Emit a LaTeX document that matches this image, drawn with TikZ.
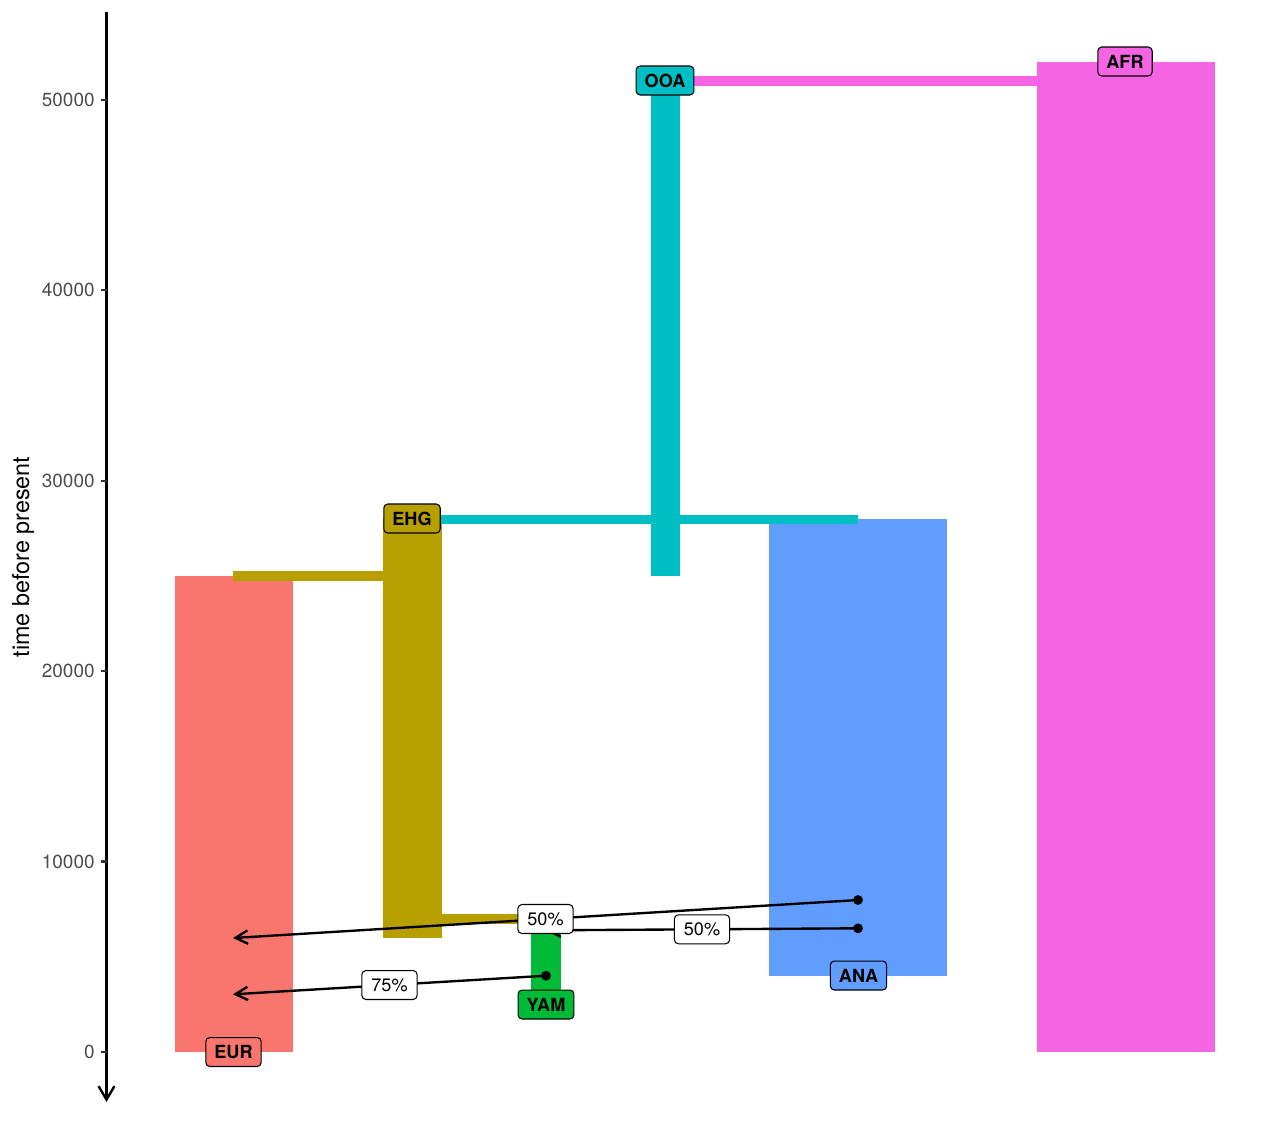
\documentclass[tikz,border=0pt]{standalone}
\usepackage{fontspec}
\setmainfont{TeX Gyre Heros}
\usetikzlibrary{arrows.meta}
\definecolor{cEUR}{HTML}{F8766D}
\definecolor{cEHG}{HTML}{B79F00}
\definecolor{cYAM}{HTML}{00BA38}
\definecolor{cOOA}{HTML}{00BFC4}
\definecolor{cANA}{HTML}{619CFF}
\definecolor{cAFR}{HTML}{F564E3}
\definecolor{ticktext}{HTML}{4D4D4D}
\definecolor{tickline}{HTML}{333333}
\tikzset{
  pop/.style={draw=black, line width=0.6pt, rounded corners=2.3pt, font=\fontsize{10.3}{12}\selectfont\bfseries,
    text height=7.4pt, text depth=0pt, minimum height=16.5pt, inner xsep=4.9pt, inner ysep=0pt},
  pct/.style={draw=black, fill=white, line width=0.6pt, rounded corners=2.3pt, font=\fontsize{10.3}{12}\selectfont,
    text height=7.4pt, text depth=0pt, minimum height=16.5pt, inner xsep=5.4pt, inner ysep=0pt},
  gf/.style={draw=black, line width=1.35pt, -{Straight Barb[length=7pt,width=7.6pt]}},
  gfdot/.style={fill=black},
  axisline/.style={draw=black, line width=1.35pt, -{Straight Barb[length=7.7pt,width=9pt]}},
  tick/.style={draw=tickline, line width=1.35pt},
  ticklab/.style={anchor=east, text=ticktext, font=\fontsize{10.8}{12}\selectfont, inner sep=0pt}
}
\begin{document}
\begin{tikzpicture}[x=0.02cm, y=-0.02cm]
\useasboundingbox (0,0) rectangle (1280,1120);
% population columns
\fill[cEUR] (175,576) rectangle (293,1052);
\fill[cEHG] (383,519) rectangle (441.5,938);
\fill[cYAM] (531,919) rectangle (560.5,1004);
\fill[cOOA] (650.5,81) rectangle (679.5,576);
\fill[cANA] (769,519) rectangle (947,976);
\fill[cAFR] (1037,62) rectangle (1215,1052);
% split bars
\fill[cEHG] (233,571) rectangle (412,580.5);
\fill[cEHG] (412,914) rectangle (545.5,923.5);
\fill[cOOA] (412,514.5) rectangle (858,523.5);
\fill[cAFR] (665,76) rectangle (1126,85.5);
% axis
\draw[axisline] (106.5,12) -- (106.5,1102);
\foreach \yy/\lab in {1052/0,861.6/10000,671.2/20000,480.7/30000,290.3/40000,99.9/50000}{
  \draw[tick] (101,\yy) -- (106.5,\yy);
  \node[ticklab] at (95,\yy) {\lab};
}
\node[rotate=90, font=\fontsize{13.3}{15}\selectfont] (title) at (23,557) {time before present};
% gene flow
\coordinate (f1s) at (858,900);
\coordinate (f1e) at (233,938);
\coordinate (f2s) at (858,928.3);
\coordinate (f2e) at (546,930.3);
\coordinate (f3s) at (546,975.7);
\coordinate (f3e) at (233,994.3);
\draw[gf] (f1s) -- (f1e);
\draw[gf] (f2s) -- (f2e);
\draw[gf] (f3s) -- (f3e);
\fill[gfdot] (f1s) circle[radius=2.8pt];
\fill[gfdot] (f2s) circle[radius=2.8pt];
\fill[gfdot] (f3s) circle[radius=2.8pt];
\path (f1s) -- node[pct] (p1) {50\%} (f1e);
\path (f2s) -- node[pct] (p2) {50\%} (f2e);
\path (f3s) -- node[pct] (p3) {75\%} (f3e);
% population labels
\node[pop, fill=cEUR] (EUR) at (233.5,1052) {EUR};
\node[pop, fill=cEHG] (EHG) at (412,518.5) {EHG};
\node[pop, fill=cYAM] (YAM) at (546,1004.5) {YAM};
\node[pop, fill=cOOA] (OOA) at (665,80.5) {OOA};
\node[pop, fill=cANA] (ANA) at (858.5,975.5) {ANA};
\node[pop, fill=cAFR] (AFR) at (1125,61.5) {AFR};
\end{tikzpicture}
\end{document}
